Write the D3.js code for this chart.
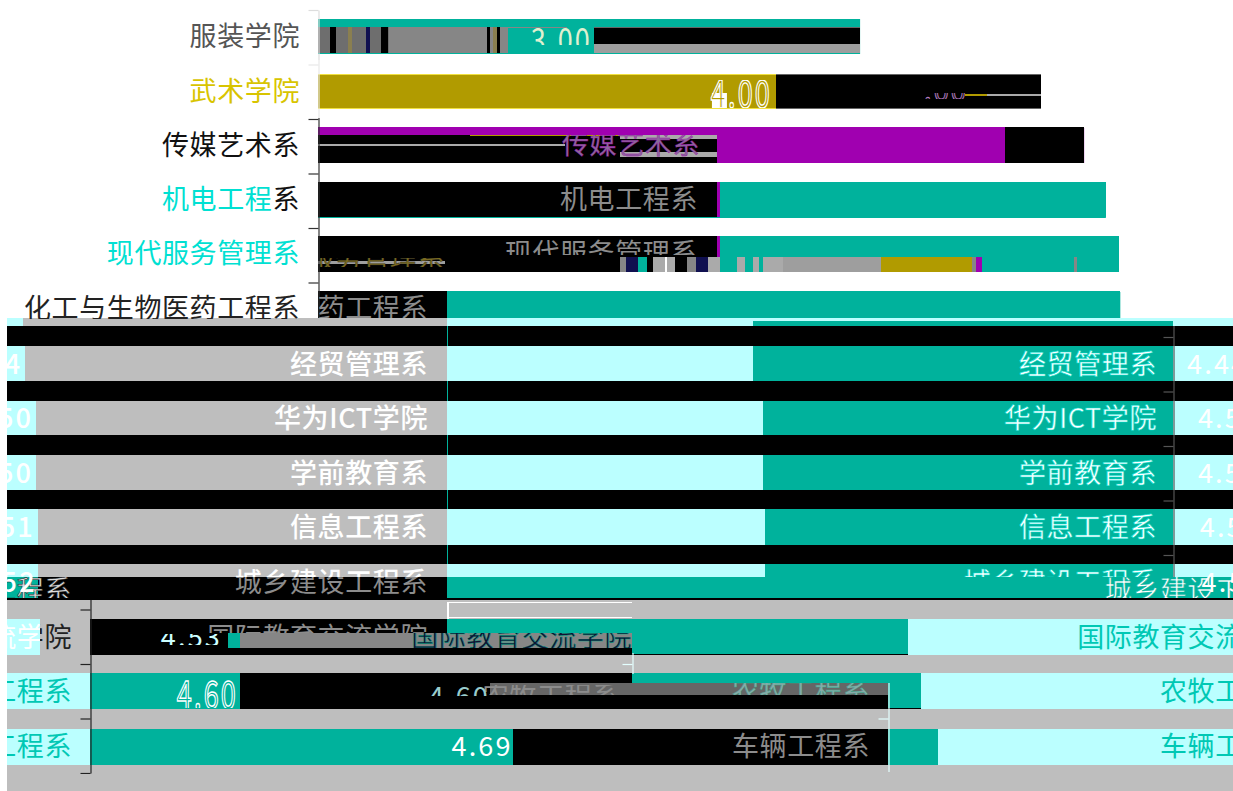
<!DOCTYPE html>
<html>
<head>
<meta charset="utf-8">
<script src="https://cdn.jsdelivr.net/npm/d3@7"></script>
<style>
body { margin: 0; background: #fff; }
text { font-family: "Noto Sans CJK SC", sans-serif; font-size: 27px; letter-spacing: 0.6px; }
text.num { letter-spacing: 2.2px; }
</style>
</head>
<body>
<div id="chart"></div>
<script>
// 数据
const categories = ['服装学院', '武术学院', '传媒艺术系', '机电工程系', '现代服务管理系', '化工与生物医药工程系', '经贸管理系',
    '华为ICT学院', '学前教育系', '信息工程系', '城乡建设工程系', '国际教育交流学院', '农牧工程系', '车辆工程系'];
const values = [3.00, 4.00, 4.24, 4.36, 4.43, 4.44, 4.44, 4.50, 4.50, 4.51, 4.52, 4.53, 4.60, 4.69];
const tickRows = d3.range(15);

const colors = {
    t: '#00b29c', c: '#bbffff', g: '#bebebe', k: '#000', w: '#fff', y: '#b19b00', p: '#a000b0', u: '#f0e040',
    d: '#868686', m: '#9e9e9e', s: '#666', e: '#6e6e6e', o: '#8a7f50', l: '#aaa', b: '#101050'
};

const svg = d3.select('#chart').append('svg').attr('width', 1233).attr('height', 791).style('display', 'block');
const x = d3.scaleLinear().domain([0, 5]).range([318, 1221.5]);
const y = d3.scaleLinear().domain([0, 14]).range([19, 783.4]);
const tickY = d3.scaleLinear().domain([0, 14]).range([10, 773]);
const barHeight = 35;

// 柱子
svg.append('g').selectAll('rect')
    .data(values)
    .enter().append('rect')
    .attr('x', (d, i) => i > 10 ? x(0) - 228 : x(0))
    .attr('y', (d, i) => Math.round(y(i)))
    .attr('width', d => x(d) - x(0))
    .attr('height', barHeight)
    .attr('fill', (d, i) => i === 1 ? colors.y : i === 2 ? colors.p : colors.t);

// 错位色带: [行, 上偏移, 下偏移, 分段值, 颜色]
const L = -1.721, R = 5.064;
const strips = [
    [0, 0, 8, [0, values[0]], 't'],
    [0, 8, 34, [0, .066, .1, .166, .188, .266, .288, .349, .387, .393, .935, .95, .968, .99, 1.007, 1.035, 1.051, 1.527], 'ekeoebekedkdokddt'],
    [0, 8, 9, [1.051, 1.38], 'd'],
    [0, 9, 25, [1.527, 3], 'k'],
    [0, 8, 9, [1.527, 3], 's'],
    [0, 25, 34, [1.527, 3], 'm'],

    [1, 0, 35, [0, 2.535, 4], 'yk'],
    [1, 0, 1, [0, 2.535, 4], 'us'],
    [1, 34, 35, [0, 2.535, 4], 'us'],
    [1, 20, 22, [3.581, 3.703, 4], 'yl'],

    [2, -1, 7, [0, 3.802, values[2]], 'pk'],
    [2, 7, 35, [0, 2.208, 3.802, values[2]], 'kpk'],
    [2, 16, 18, [0, 1.367], 'l'],
    [2, 7, 8, [.841, 1.671], 'y'],
    [2, 7, 11, [1.671, 2.208], 'l'],
    [2, 24, 29, [1.671, 2.208], 'l'],

    [3, -1, 34, [0, 2.208, 2.225, values[3]], 'kpt'],

    [4, -1, 20, [0, 2.208, 2.225, values[4]], 'kpt'],
    [4, 20, 35, [0, 1.671, 1.704, 1.769, 1.823, 1.855, 1.92, 1.931, 1.975, 2.04, 2.094, 2.159, 2.224, 2.321, 2.365, 2.408, 2.441, 2.462, 2.571, 3.113, 3.622, 3.644, 3.676, 4.186, 4.203, values[4]],
        'kdbtklwlkdbltltltlmydptdt'],
    [4, 24, 27, [0, .704], 'm'],

    [5, -1, 26, [0, .714, values[5]], 'kt'],
    [5, 26, 29, [L, -1.633, .714, 5.064], 'cgc'],
    [5, 29, 34, [L, -1.633, .714, 2.407, 4.732, R], 'cgctc'],
    [5, 34, 55, [L, .714, .72, R], 'ktk'],

    [6, -1, 34, [L, -1.621, .714, 2.407, 4.732, R], 'cgctc'],
    [6, 34, 54, [L, .714, .72, R], 'ktk'],
    [7, 0, 34, [L, -1.561, .714, 2.463, 4.732, R], 'cgctc'],
    [7, 34, 55, [L, .714, .72, R], 'ktk'],
    [8, -1, 34, [L, -1.561, .714, 2.463, 4.732, R], 'cgctc'],
    [8, 34, 54, [L, .714, .72, R], 'ktk'],
    [9, -1, 35, [L, -1.55, .714, 2.474, 4.732, R], 'cgctc'],
    [9, 35, 55, [L, .714, .72, R], 'ktk'],
    [10, -1, 12, [L, -1.55, .714, 2.474, 4.732, R], 'cgctc'],
    [10, 12, 33, [L, -1.55, .714, R], 'tkt'],
    [10, 33, 35, [L, R], 'k'],
    [10, 35, 54, [L, R], 'g'],
    [10, 37, 38, [.714, 1.738], 'w'],
    [10, 37, 54, [.714, .725], 'w'],
    [10, 52, 53, [.714, 1.738], 'w'],

    [11, -1, 35, [L, -1.538, -1.262, 1.738, 3.265, R], 'cgktc'],
    [11, -1, 13, [.714, 1.738], 't'],
    [11, 34, 35, [1.738, 3.265], 'k'],
    [11, 13, 28, [-.498, -.43, 1.738], 'td'],
    [11, 35, 54, [L, R], 'g'],

    [12, -1, 35, [L, -1.262, -.432, 1.738, 3.154, 3.337, R], 'ctkktc'],
    [12, -1, 9, [1.738, 3.154], 't'],
    [12, 9, 21, [.95, 3.154], 's'],
    [12, 34, 35, [3.154, 3.337], 'k'],
    [12, 35, 55, [L, R], 'g'],

    [13, 0, 36, [L, -1.262, 1.079, 3.154, 3.431, R], 'ctktc'],
    [13, 36, 62, [L, R], 'g']
];

svg.append('g').attr('shape-rendering', 'crispEdges').selectAll('g')
    .data(strips)
    .enter().append('g')
    .each(function (s) {
        const top = Math.round(y(s[0])) + s[1];
        const bottom = Math.round(y(s[0])) + s[2];
        const cuts = s[3];
        d3.select(this).selectAll('rect')
            .data(s[4].split(''))
            .enter().append('rect')
            .attr('x', (d, i) => x(cuts[i]))
            .attr('y', top)
            .attr('width', (d, i) => x(cuts[i + 1]) - x(cuts[i]))
            .attr('height', bottom - top)
            .attr('fill', d => colors[d]);
    });

// 白块
svg.append('rect').attr('x', x(2.18)).attr('y', 93)
    .attr('width', x(2.263) - x(2.18)).attr('height', 15).attr('fill', '#fff');

// 坐标轴, 每段只露出一部分
let clipId = 0;
function makeClip(y0, y1, x0 = 0, x1 = 1233) {
    const id = 'c' + (clipId++);
    svg.append('clipPath').attr('id', id).append('rect')
        .attr('x', x0).attr('y', y0).attr('width', x1 - x0).attr('height', y1 - y0);
    return `url(#${id})`;
}

function drawAxis(value, y0, y1, color) {
    const g = svg.append('g').attr('clip-path', makeClip(y0, y1))
        .append('g')
        .attr('transform', `translate(${Math.round(x(value)) + 0.5},0)`)
        .call(d3.axisLeft(tickY).tickValues(tickRows).tickSize(10).tickSizeOuter(0).tickFormat(''));
    g.selectAll('path, line').attr('stroke', color).attr('stroke-width', 1.2);
}

drawAxis(0, 0, 60, '#ddd');
drawAxis(0, 60, 118, '#e8e8e8');
drawAxis(0, 118, 318, '#333');
drawAxis(4.732, 326, 577, '#555');
drawAxis(-1.262, 600, 774, '#222');
drawAxis(3.154, 683, 772, '#e4ffff');
drawAxis(1.738, 653, 674, '#e4ffff');

// 文字
function put(parts, right, base, fill, opts = {}) {
    const g = svg.append('g');
    if (opts.clip) g.attr('clip-path', makeClip(...opts.clip));
    const text = g.append('text')
        .attr('transform', `translate(${right},${base}) scale(1,${opts.sy || 1})`)
        .attr('text-anchor', 'end')
        .attr('fill', fill);
    if (opts.num) text.attr('class', 'num');
    if (opts.stroke) text.attr('stroke', opts.stroke).attr('stroke-width', opts.sw || 0.8);
    if (opts.bold) text.attr('font-weight', 500);
    (Array.isArray(parts) ? parts : [[parts, fill]]).forEach(p => {
        text.append('tspan').attr('fill', p[1]).text(p[0]);
    });
}

const base = i => Math.round(y(i)) + 28;
const cyanText = '#00e0d2', tealText = '#00c8b4', grayText = '#8c8c8c';

// 左侧类目
put(categories[0], 300, base(0) - 1, '#555');
put(categories[1], 300, base(1) - 1, '#d8c400');
put(categories[2], 300, base(2) - 1, '#111');
put([['机电工程', cyanText], ['系', '#111']], 300, base(3) - 2, cyanText);
put(categories[4], 300, base(4) - 2, cyanText);
put(categories[5], 300, base(5) - 2, '#222', { clip: [280, 319] });

// 柱内类目
put(categories[2], 700, base(2) - 2, '#8a6a9a', { clip: [135, 158], stroke: '#a000b0', sw: 0.4 });
put(categories[3], 698, base(3) - 2, grayText);
put(categories[4], 698, base(4) - 2, grayText, { clip: [236, 255] });
put(categories[4], 445, 268, '#7a6a20', { clip: [258, 267, 320, 445], stroke: '#222', sw: 0.3 });
put(categories[5], 428, base(5) - 2, grayText, { clip: [291, 318, 319, 447] });
[6, 7, 8, 9].forEach(i => {
    put(categories[i], 428, base(i) - 1, '#fff', { bold: true });
    put(categories[i], 1157, base(i) - 1, '#fff', { stroke: '#00e0d2', sw: 0.5 });
});
put(categories[10], 428, base(10) - 1, '#fff', { bold: true, clip: [560, 577] });
put(categories[10], 428, base(10) - 1, grayText, { clip: [577, 598] });
put(categories[10], 1157, base(10) - 1, '#fff', { stroke: '#00e0d2', sw: 0.5, clip: [565, 577] });
put(categories[10], 1298, base(10) + 7, '#fff', { stroke: '#00b29c', sw: 0.5, clip: [577, 598, 0, 1233] });
put(categories[10], 72, base(10) + 7, '#ddd', { stroke: '#222', sw: 0.5, clip: [577, 598, 7, 90] });
put(categories[11], 428, base(11) - 1, grayText, { clip: [620, 633] });
put(categories[11], 632, base(11) - 1, '#113', { stroke: '#0a8', sw: 0.4, clip: [633, 648, 397, 632] });
put(categories[11], 72, base(11) - 1, '#fff', { clip: [619, 655, 7, 40] });
put(categories[11], 72, base(11) - 1, '#222', { clip: [619, 655, 40, 90] });
put(categories[11], 1298, base(11) - 1, tealText, { clip: [619, 655, 908, 1233] });
put(categories[12], 620, base(12) + 4, grayText, { clip: [685, 695] });
put(categories[12], 870, base(12) - 1, '#8aa', { stroke: '#3a8', sw: 0.4, clip: [683, 695] });
put(categories[12], 72, base(12) - 1, tealText, { clip: [673, 709, 7, 90] });
put(categories[12], 1298, base(12) - 1, tealText, { clip: [673, 709, 921, 1233] });
put(categories[13], 870, base(13) - 1, grayText);
put(categories[13], 72, base(13) - 1, tealText, { clip: [729, 765, 7, 90] });
put(categories[13], 1298, base(13) - 1, tealText, { clip: [729, 765, 938, 1233] });

// 数值
const num = v => v.toFixed(2);
put(num(values[0]), 592, 53, '#dff0d0', { num: true, sy: 1.3, clip: [27, 45] });
put(num(values[0]), 858, base(0), '#fff', { num: true, clip: [25, 28] });
put(num(values[1]), 772, 108, '#b19b00', { num: true, stroke: '#fff', sw: 1, sy: 1.45, clip: [80, 108] });
put(num(values[1]), 968, base(1) - 1, '#222', { num: true, stroke: '#c080d0', sw: 0.8, clip: [93, 99, 925, 968] });
[6, 7, 8, 9, 10].forEach(i => {
    const right = x(values[i]) + 128;
    const bar = i === 10 ? [565, 598] : [0, 791];
    put(num(values[i]), right, base(i) - 1, '#fff', { num: true, clip: bar });
    put(num(values[i]), right - 1226, base(i) - 1, '#fff', { num: true, bold: true, clip: [bar[0], bar[1], 7, 60] });
});
put(num(values[11]), 222, base(11) - 1, '#cff', { num: true, clip: [634, 645] });
put(num(values[12]), 238, 709, '#00b29c', { num: true, stroke: '#fff', sw: 1, sy: 1.45, clip: [680, 708] });
put(num(values[12]), 490, base(12) + 4, '#9cc', { num: true, clip: [684, 696] });
put(num(values[13]), x(values[13] / 2) - 228 - 1, base(13) - 1, '#fff', { num: true });
</script>
</body>
</html>
